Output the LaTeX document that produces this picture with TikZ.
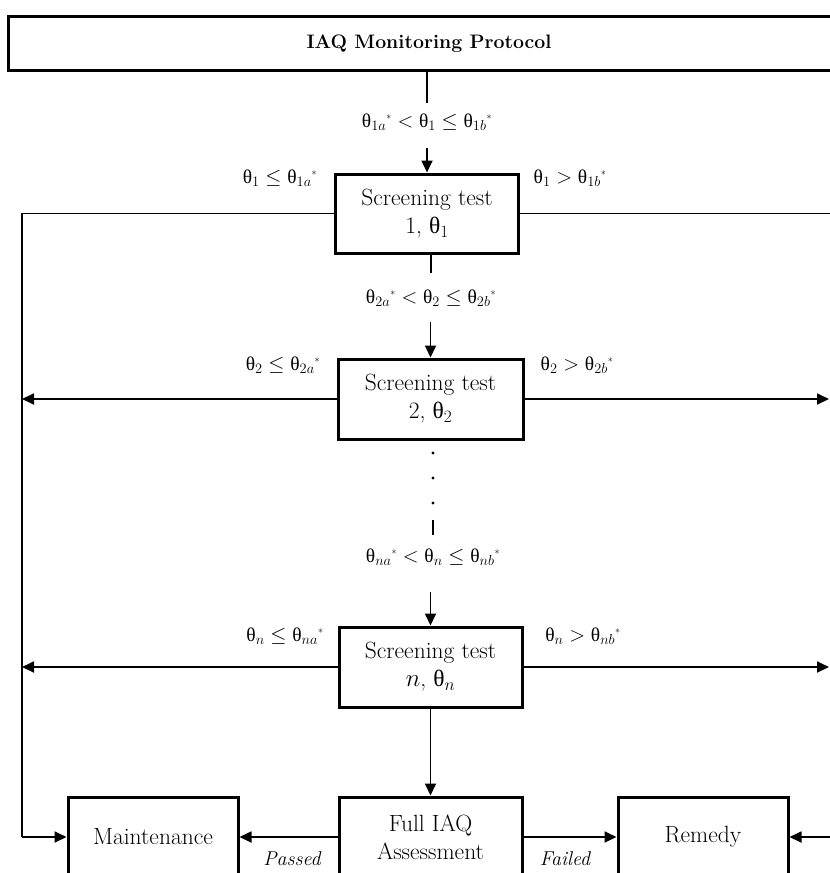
\documentclass[tikz,border=0pt]{standalone}
\usepackage{fontspec}
\newfontfamily\grkfont{Liberation Serif}
\usetikzlibrary{arrows.meta}
\tikzset{
  every node/.style={font=\fontsize{19.5}{26}\selectfont},
  box/.style={draw, line width=3pt, inner sep=0pt, align=center, font=\fontsize{23.5}{28}\selectfont},
  conn/.style={line width=1.8pt},
  arr/.style={conn, -{Triangle[length=12pt,width=11pt]}},
  lbl/.style={inner sep=0pt}
}
\newcommand{\st}{{}^{\scriptscriptstyle *}}
\newcommand{\uth}{\mathord{\hbox{\grkfont θ}}}
\begin{document}
\begin{tikzpicture}[x=1pt,y=-1pt]
\useasboundingbox (0,0) rectangle (830,873);
\clip (0,0) rectangle (830,873);
% boxes
\node[box, minimum width=842pt, minimum height=54pt, font=\fontsize{19.5}{24}\selectfont\bfseries] (top) at (429,43.5) {IAQ Monitoring Protocol};
\node[box, minimum width=183pt, minimum height=79pt] (s1) at (427,213.5) {Screening test\\1, $\uth_1$};
\node[box, minimum width=185pt, minimum height=80pt] (s2) at (430.5,399) {Screening test\\2, $\uth_2$};
\node[box, minimum width=183pt, minimum height=80pt] (sn) at (430.5,667) {Screening test\\$n$, $\uth_n$};
\node[box, minimum width=183pt, minimum height=80pt] (full) at (430.5,837) {Full IAQ\\Assessment};
\node[box, minimum width=170pt, minimum height=80pt] (maint) at (153,837) {Maintenance};
\node[box, minimum width=170pt, minimum height=80pt] (rem) at (703,837) {Remedy};
% centre labels
\node[lbl] (l1) at (427,122) {$\uth_{1a}\st<\uth_1\le\uth_{1b}\st$};
\node[lbl] (l2) at (431,298) {$\uth_{2a}\st<\uth_2\le\uth_{2b}\st$};
\node[lbl] (ln) at (433,557) {$\uth_{na}\st<\uth_n\le\uth_{nb}\st$};
% side labels
\node[lbl] (a1) at (280,178) {$\uth_1\le\uth_{1a}\st$};
\node[lbl] (b1) at (570,178) {$\uth_1>\uth_{1b}\st$};
\node[lbl] (a2) at (283,365) {$\uth_2\le\uth_{2a}\st$};
\node[lbl] (b2) at (577,365) {$\uth_2>\uth_{2b}\st$};
\node[lbl] (an) at (285,636) {$\uth_n\le\uth_{na}\st$};
\node[lbl] (bn) at (583,636) {$\uth_n>\uth_{nb}\st$};
\node[lbl, font=\fontsize{20}{24}\selectfont\itshape] (pas) at (292,859) {Passed};
\node[lbl, font=\fontsize{20}{24}\selectfont\itshape] (fai) at (565,859) {Failed};
% coordinates
\coordinate (c1a) at (427,103);
\coordinate (c1b) at (427,148);
\coordinate (c2a) at (431,273);
\coordinate (c2b) at (431,322);
\coordinate (cna) at (433,520);
\coordinate (cnb) at (433,535);
\coordinate (cnc) at (433,592);
\coordinate (lt) at (22,213.5);
\coordinate (lb) at (22,837);
\coordinate (r1) at (845,213.5);
\coordinate (r2) at (829,399);
\coordinate (rn) at (829,667);
\coordinate (rr) at (845,837);
% vertical connectors
\draw[conn] (top.south -| c1a) -- (c1a);
\draw[arr] (c1b) -- (s1.north);
\draw[conn] (s1.south -| c2a) -- (c2a);
\draw[arr] (s2.north |- c2b) -- (s2.north);
\foreach \yy in {453,478,503} \fill (433,\yy) circle (1.6pt);
\draw[conn] (cna) -- (cnb);
\draw[arr] (sn.north |- cnc) -- (sn.north);
\draw[arr] (sn.south) -- (full.north);
% horizontal connectors
\draw[conn] (s1.west) -- (lt) -- (lb);
\draw[arr] (lb) -- (maint.west);
\draw[conn] (s1.east) -- (r1);
\draw[arr] (s2.west) -- (s2.west -| lt);
\draw[arr] (s2.east) -- (r2);
\draw[arr] (sn.west) -- (sn.west -| lt);
\draw[arr] (sn.east) -- (rn);
\draw[arr] (full.west) -- (maint.east);
\draw[arr] (full.east) -- (rem.west);
\draw[arr] (rr) -- (rem.east);
\end{tikzpicture}
\end{document}
